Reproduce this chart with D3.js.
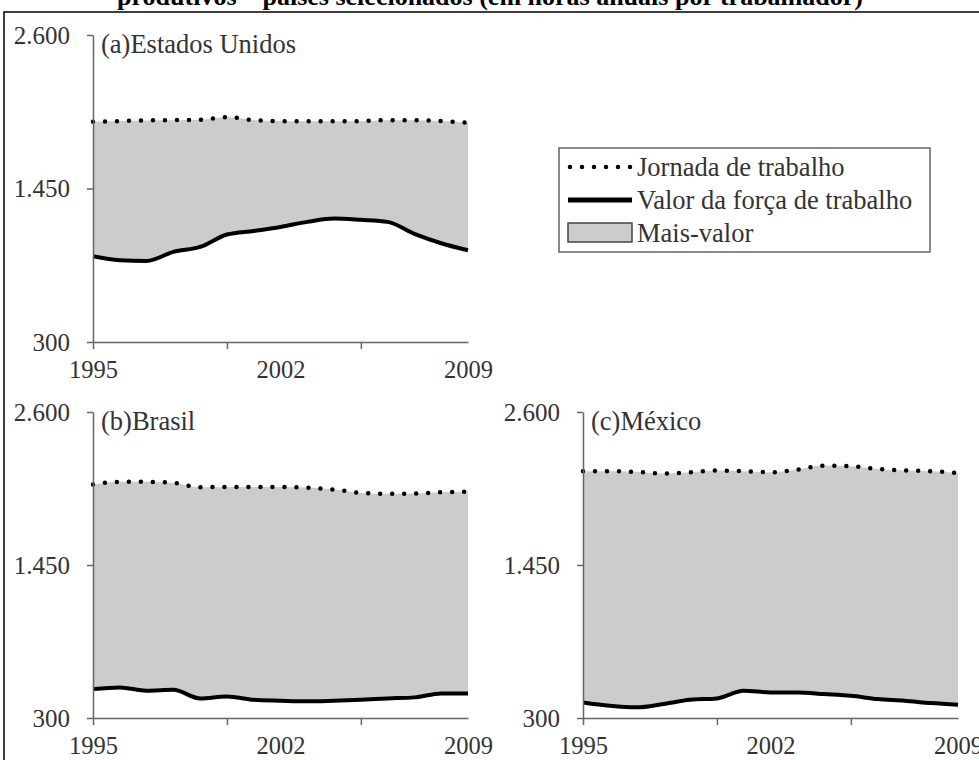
<!DOCTYPE html>
<html>
  <head>
    <meta charset="utf-8">
    <style>
      html, body {
        padding: 0;
        margin: 0;
        overflow: hidden;
        background: #fff;
      }
      svg, svg text {
        font-family: "Liberation Serif", "Times New Roman", serif;
      }
      .tick text {
        fill: #333;
      }
      .domain, .tick line {
        stroke: #666;
        stroke-width: 1.5;
      }
    </style>
  </head>
  <body>
    <div id="chart"></div>
    <script src="https://cdnjs.cloudflare.com/ajax/libs/d3/7.8.5/d3.min.js"></script>
    <script>
      (() => {
        let width = 979
        let height = 760

        // data (hours per worker per year)
        const years = [1995, 1996, 1997, 1998, 1999, 2000, 2001, 2002, 2003, 2004, 2005, 2006, 2007, 2008, 2009]
        const usJornada = [1950, 1955, 1960, 1962, 1965, 1985, 1962, 1955, 1953, 1953, 1955, 1962, 1962, 1955, 1942]
        const usValor = [942, 912, 907, 975, 1012, 1105, 1132, 1162, 1200, 1225, 1215, 1200, 1110, 1040, 987]
        const brJornada = [2055, 2075, 2075, 2067, 2035, 2037, 2037, 2037, 2032, 2017, 1992, 1985, 1987, 1997, 2000]
        const brValor = [517, 530, 505, 512, 447, 462, 437, 430, 425, 430, 437, 447, 455, 485, 485]
        const mxJornada = [2155, 2155, 2150, 2137, 2147, 2160, 2155, 2147, 2167, 2197, 2192, 2172, 2160, 2155, 2142]
        const mxValor = [417, 392, 380, 405, 437, 447, 505, 492, 492, 480, 467, 442, 430, 412, 400]

        const panelLabels = ['(a)Estados Unidos', '(b)Brasil', '(c)México']
        const yTicks = [300, 1450, 2600]
        const xTickYears = [1995, 2000, 2005]
        const xLabelYears = [1995, 2002, 2009]
        const legendLabels = ['Jornada de trabalho', 'Valor da força de trabalho', 'Mais-valor']
        const title = 'produtivos – países selecionados (em horas anuais por trabalhador)'

        let gray = '#cccccc'
        let black = '#000000'

        let ptBR = d3.formatLocale({decimal: ',', thousands: '.', grouping: [3], currency: ['', '']})
        let fmt = ptBR.format(',')

        let svg = d3.select('#chart')
          .append('svg')
          .attr('width', width)
          .attr('height', height)

        // title, cut off by the top of the page like the reference
        svg.append('text')
          .attr('x', 490)
          .attr('y', 5)
          .attr('text-anchor', 'middle')
          .attr('font-weight', 'bold')
          .attr('font-size', 26)
          .text(title)

        // outer frame
        svg.append('rect')
          .attr('x', 4)
          .attr('y', 12)
          .attr('width', 1000)
          .attr('height', 800)
          .attr('fill', 'none')
          .attr('stroke', black)
          .attr('stroke-width', 1.5)

        let panels = [
          {left: 93, top: 35, w: 375, h: 307, jornada: usJornada, valor: usValor, label: panelLabels[0]},
          {left: 93, top: 412, w: 375, h: 306, jornada: brJornada, valor: brValor, label: panelLabels[1]},
          {left: 583, top: 412, w: 375, h: 306, jornada: mxJornada, valor: mxValor, label: panelLabels[2]},
        ]

        panels.forEach(p => {
          let g = svg.append('g')
            .attr('transform', 'translate(' + p.left + ',' + p.top + ')')

          let x = d3.scaleLinear().domain([years[0], years[years.length - 1]]).range([0, p.w])
          let y = d3.scaleLinear().domain([300, 2600]).range([p.h, 0])

          let rows = years.map((yr, i) => ({year: yr, jornada: p.jornada[i], valor: p.valor[i]}))

          let area = d3.area()
            .x(d => x(d.year))
            .y0(d => y(d.valor))
            .y1(d => y(d.jornada))
            .curve(d3.curveMonotoneX)

          g.append('path')
            .datum(rows)
            .attr('fill', gray)
            .attr('d', area)

          g.append('path')
            .datum(rows)
            .attr('fill', 'none')
            .attr('stroke', black)
            .attr('stroke-width', 4)
            .attr('stroke-linejoin', 'round')
            .attr('d', d3.line().x(d => x(d.year)).y(d => y(d.valor)).curve(d3.curveMonotoneX))

          g.append('path')
            .datum(rows)
            .attr('fill', 'none')
            .attr('stroke', black)
            .attr('stroke-width', 4.5)
            .attr('stroke-linecap', 'round')
            .attr('stroke-dasharray', '0 12')
            .attr('d', d3.line().x(d => x(d.year)).y(d => y(d.jornada)).curve(d3.curveMonotoneX))

          // y axis
          g.append('g')
            .call(d3.axisLeft(y).tickValues(yTicks).tickFormat(fmt).tickSize(6).tickPadding(17).tickSizeOuter(0))
            .attr('font-family', null)
            .attr('font-size', 25)

          // x axis: tick marks every 5 years, labels every 7
          g.append('g')
            .attr('transform', 'translate(0,' + p.h + ')')
            .call(d3.axisBottom(x).tickValues(xTickYears).tickFormat('').tickSize(7).tickSizeOuter(0))
          g.append('g')
            .attr('transform', 'translate(0,' + p.h + ')')
            .call(d3.axisBottom(x).tickValues(xLabelYears).tickFormat(d3.format('d')).tickSize(0).tickPadding(19))
            .attr('font-family', null)
            .attr('font-size', 24.5)
            .call(s => s.select('.domain').remove())

          g.append('text')
            .attr('x', 8)
            .attr('y', 18)
            .attr('font-size', 26.5)
            .attr('fill', '#333')
            .text(p.label)
        })

        // legend
        let lg = svg.append('g').attr('transform', 'translate(559,148)')
        lg.append('rect')
          .attr('width', 371)
          .attr('height', 104)
          .attr('fill', '#fff')
          .attr('stroke', '#666')
          .attr('stroke-width', 1.5)

        let rowY = [19, 52, 85]
        lg.append('line')
          .attr('x1', 11).attr('x2', 72)
          .attr('y1', rowY[0]).attr('y2', rowY[0])
          .attr('stroke', black)
          .attr('stroke-width', 4.5)
          .attr('stroke-linecap', 'round')
          .attr('stroke-dasharray', '0 12')
        lg.append('line')
          .attr('x1', 9).attr('x2', 73)
          .attr('y1', rowY[1]).attr('y2', rowY[1])
          .attr('stroke', black)
          .attr('stroke-width', 5)
        lg.append('rect')
          .attr('x', 9).attr('y', rowY[2] - 10)
          .attr('width', 64).attr('height', 19)
          .attr('fill', gray)
          .attr('stroke', '#444')
          .attr('stroke-width', 1.5)

        lg.selectAll('.lbl')
          .data(legendLabels)
          .enter().append('text')
          .attr('class', 'lbl')
          .attr('x', 78)
          .attr('y', (d, i) => rowY[i])
          .attr('dy', '0.33em')
          .attr('font-size', 26.5)
          .attr('fill', '#333')
          .text(d => d)
      })();
    </script>
  </body>
</html>
